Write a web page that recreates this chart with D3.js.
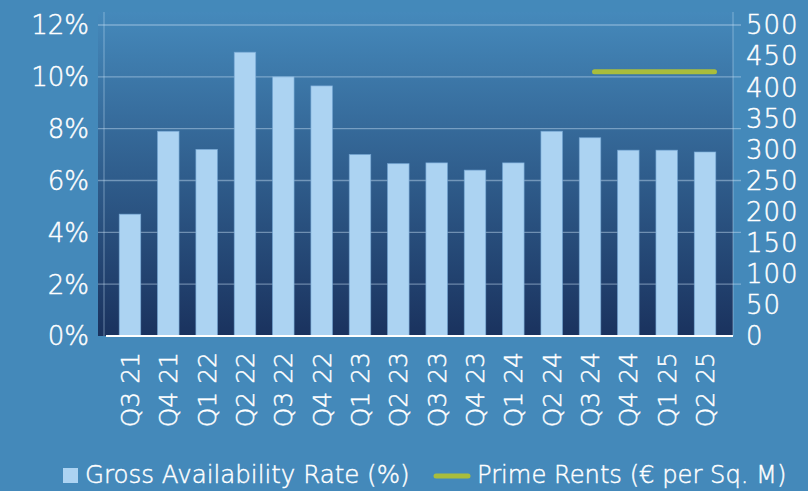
<!DOCTYPE html>
<html><head><meta charset="utf-8">
<script src="https://cdn.jsdelivr.net/npm/d3@7"></script>
<style>
html,body{margin:0;padding:0;background:#4489ba;}
svg{display:block;}
text{font-family:"DejaVu Sans",sans-serif;fill:#fff;font-weight:200;stroke:#fff;stroke-width:0.45px;}
</style></head><body>
<svg id="c" width="808" height="491"></svg>
<script>
const categories = ["Q3 21","Q4 21","Q1 22","Q2 22","Q3 22","Q4 22","Q1 23","Q2 23","Q3 23","Q4 23","Q1 24","Q2 24","Q3 24","Q4 24","Q1 25","Q2 25"];
const availability = [4.7,7.9,7.2,10.95,10.0,9.65,7.0,6.65,6.68,6.4,6.68,7.9,7.65,7.17,7.17,7.1];
const primeRents = [null,null,null,null,null,null,null,null,null,null,null,null,425,425,425,425];
const leftTicks = [0,2,4,6,8,10,12];
const rightTicks = [0,50,100,150,200,250,300,350,400,450,500];
const seriesNames = ["Gross Availability Rate (%)","Prime Rents (€ per Sq. M)"];

const svg = d3.select("#c");
const plot = {x0:98, x1:733, y0:12, y1:336};
const yL = d3.scaleLinear().domain([0,12]).range([336,25]);
const yR = d3.scaleLinear().domain([0,500]).range([336,25]);
const x = d3.scaleBand().domain(categories).range([110.8,724.2]).paddingInner(0.44).paddingOuter(0.22);
const xLine = d3.scalePoint().domain(categories).range([114.5,714.5]);

const defs = svg.append("defs");
const g = defs.append("linearGradient").attr("id","bg").attr("x1",0).attr("y1",0).attr("x2",0).attr("y2",1);
g.append("stop").attr("offset","0%").attr("stop-color","#4589bb");
g.append("stop").attr("offset","100%").attr("stop-color","#1a325e");

svg.append("rect").attr("x",plot.x0).attr("y",plot.y0).attr("width",plot.x1-plot.x0).attr("height",plot.y1-plot.y0).attr("fill","url(#bg)");

svg.append("g").selectAll("line").data(leftTicks.filter(d=>d>0)).join("line")
  .attr("x1",98).attr("x2",741).attr("y1",d=>yL(d)).attr("y2",d=>yL(d))
  .attr("stroke","rgba(200,225,245,0.45)").attr("stroke-width",1.3);

[104,733].forEach(xx=>svg.append("line").attr("x1",xx).attr("x2",xx).attr("y1",12).attr("y2",336)
  .attr("stroke","rgba(200,225,245,0.35)").attr("stroke-width",1.3));

svg.append("g").selectAll("rect").data(categories).join("rect")
  .attr("x",d=>x(d)).attr("width",x.bandwidth())
  .attr("y",(d,i)=>yL(availability[i])).attr("height",(d,i)=>yL(0)-yL(availability[i]))
  .attr("fill","#acd3f2").attr("stroke","rgba(120,170,215,0.8)").attr("stroke-width",0.8);

svg.append("line").attr("x1",106).attr("x2",733).attr("y1",yL(0)).attr("y2",yL(0)).attr("stroke","#fff").attr("stroke-width",2);

const lineGen = d3.line().defined(d=>d.v!=null).x(d=>xLine(d.c)).y(d=>yR(d.v));
svg.append("path").datum(categories.map((c,i)=>({c,v:primeRents[i]})))
  .attr("d",lineGen).attr("fill","none").attr("stroke","#a9bd3c").attr("stroke-width",5).attr("stroke-linecap","round");

svg.append("g").selectAll("text").data(leftTicks).join("text")
  .attr("x",89).attr("y",d=>yL(d)).attr("dy","0.36em").attr("text-anchor","end")
  .attr("font-size",26).text(d=>d+"%");
svg.append("g").selectAll("text").data(rightTicks).join("text")
  .attr("x",746).attr("y",d=>yR(d)).attr("dy","0.36em").attr("text-anchor","start")
  .attr("font-size",26).attr("letter-spacing",1).text(d=>d);
svg.append("g").selectAll("text").data(categories).join("text")
  .attr("transform",d=>`translate(${x(d)+x.bandwidth()/2},352) rotate(-90)`)
  .attr("dy","0.36em").attr("text-anchor","end").attr("font-size",25).text(d=>d);

svg.append("rect").attr("x",63).attr("y",468).attr("width",15).attr("height",15).attr("fill","#acd3f2");
svg.append("text").attr("x",85).attr("y",483).attr("font-size",24.5).text(seriesNames[0]);
svg.append("line").attr("x1",436).attr("x2",468).attr("y1",476).attr("y2",476).attr("stroke","#a9bd3c").attr("stroke-width",5).attr("stroke-linecap","round");
svg.append("text").attr("x",477).attr("y",483).attr("font-size",24.2).text(seriesNames[1]);
</script></body></html>
